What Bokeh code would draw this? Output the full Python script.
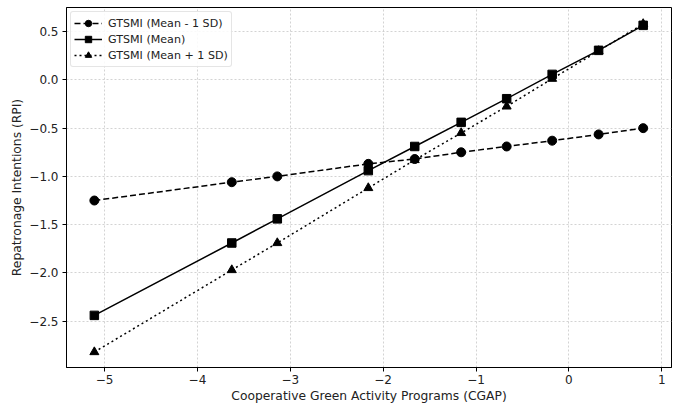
from bokeh.plotting import figure
from bokeh.models import FixedTicker, Range1d, Legend
from bokeh.embed import file_html
from bokeh.resources import INLINE

# Data
cgap = [-5.11, -3.63, -3.14, -2.16, -1.66, -1.16, -0.67, -0.18, 0.32, 0.80]
rpi_low = [-1.25, -1.06, -1.00, -0.87, -0.82, -0.75, -0.69, -0.63, -0.565, -0.50]
rpi_mean = [-2.44, -1.69, -1.44, -0.94, -0.69, -0.44, -0.195, 0.057, 0.306, 0.565]
rpi_high = [-2.82, -1.97, -1.69, -1.12, -0.83, -0.55, -0.275, 0.012, 0.30, 0.58]

labels = ["GTSMI (Mean - 1 SD)", "GTSMI (Mean)", "GTSMI (Mean + 1 SD)"]
x_ticks = [-5, -4, -3, -2, -1, 0, 1]
y_ticks = [0.5, 0.0, -0.5, -1.0, -1.5, -2.0, -2.5]

FONT = "DejaVu Sans"

p = figure(frame_width=605, frame_height=360, output_backend="svg", toolbar_location=None,
           x_range=Range1d(-5.41, 1.105), y_range=Range1d(-2.98, 0.75),
           min_border_left=66, min_border_right=4, min_border_top=7, min_border_bottom=30)

p.background_fill_color = "white"
p.border_fill_color = "white"
p.outline_line_color = "black"
p.outline_line_width = 1

# grid
for g in (p.xgrid, p.ygrid):
    g.grid_line_color = "#c8c8c8"
    g.grid_line_dash = "2 2"
    g.grid_line_width = 0.8

p.xgrid.ticker = FixedTicker(ticks=x_ticks)
p.ygrid.ticker = FixedTicker(ticks=y_ticks)

p.xaxis.ticker = FixedTicker(ticks=x_ticks)
p.yaxis.ticker = FixedTicker(ticks=y_ticks)
p.xaxis.major_label_overrides = {t: ("%d" % t).replace("-", "\u2212") for t in x_ticks}
p.yaxis.major_label_overrides = {t: ("%.1f" % t).replace("-", "\u2212") for t in y_ticks}

for ax in (p.xaxis, p.yaxis):
    ax.axis_line_color = "black"
    ax.major_tick_line_color = "black"
    ax.major_tick_in = 0
    ax.major_tick_out = 4
    ax.minor_tick_line_color = None
    ax.major_label_text_font = FONT
    ax.major_label_text_font_size = "12px"
    ax.major_label_text_color = "#222222"
    ax.axis_label_text_font = FONT
    ax.axis_label_text_font_size = "12.3px"
    ax.axis_label_text_font_style = "normal"
    ax.axis_label_text_color = "#222222"

p.xaxis.axis_label = "Cooperative Green Activity Programs (CGAP)"
p.yaxis.axis_label = "Repatronage Intentions (RPI)"
p.xaxis.major_label_standoff = 3
p.yaxis.major_label_standoff = 4
p.xaxis.axis_label_standoff = 2
p.yaxis.axis_label_standoff = 2

# series
l1 = p.line(cgap, rpi_low, line_color="black", line_width=1.5, line_dash="6 3")
s1 = p.scatter(cgap, rpi_low, marker="circle", size=9, fill_color="black", line_color="black")
l2 = p.line(cgap, rpi_mean, line_color="black", line_width=1.5)
s2 = p.scatter(cgap, rpi_mean, marker="square", size=8.5, fill_color="black", line_color="black")
l3 = p.line(cgap, rpi_high, line_color="black", line_width=1.5, line_dash="2 3")
s3 = p.scatter(cgap, rpi_high, marker="triangle", size=9, fill_color="black", line_color="black")

legend = Legend(items=[(labels[0], [l1, s1]), (labels[1], [l2, s2]), (labels[2], [l3, s3])],
                location="top_left")
legend.label_text_font = FONT
legend.label_text_font_size = "11.1px"
legend.label_text_color = "#222222"
legend.border_line_color = "#cccccc"
legend.border_line_width = 1
legend.border_radius = 3
legend.background_fill_alpha = 0.85
legend.margin = 4
legend.padding = 3
legend.spacing = 0
legend.glyph_width = 28
legend.glyph_height = 16
legend.label_height = 16
legend.label_standoff = 6
p.add_layout(legend, "center")

open("out.html", "w").write(file_html(p, INLINE))
